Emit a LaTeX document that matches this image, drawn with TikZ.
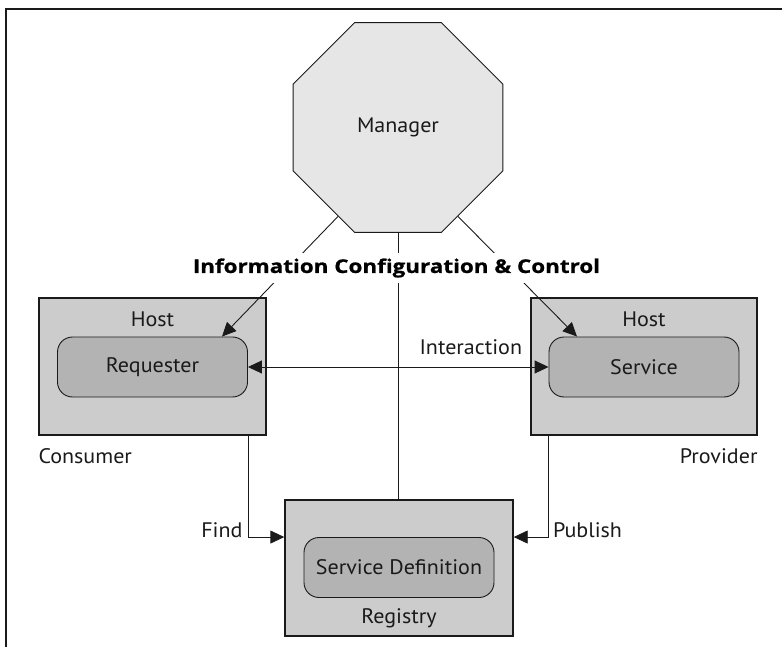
\documentclass[tikz,border=0pt]{standalone}
\usepackage{fontspec}
\setmainfont{PT Sans}[FakeStretch=1.05]
\newfontfamily\headfont{Open Sans}[FakeStretch=1.18,FakeBold=0.8]
\usetikzlibrary{arrows.meta,shapes.geometric,calc}
\definecolor{mgrfill}{HTML}{E6E6E6}
\definecolor{hostfill}{HTML}{CCCCCC}
\definecolor{innerfill}{HTML}{B3B3B3}
\definecolor{ink}{HTML}{1A1A1A}
\begin{document}
\begin{tikzpicture}[x=1pt,y=-1pt,
  font=\fontsize{21}{25}\selectfont,
  hostbox/.style={draw=ink, line width=1.4pt, fill=hostfill, inner sep=0pt},
  innerbox/.style={draw=ink, line width=0.9pt, fill=innerfill, rounded corners=15pt, inner sep=0pt, minimum width=190pt, minimum height=60pt, text=ink},
  conn/.style={draw=ink, line width=0.9pt},
  arr/.style={conn, -{Triangle[length=14pt,width=13pt]}},
  darr/.style={conn, {Triangle[length=14pt,width=13pt]}-{Triangle[length=14pt,width=13pt]}},
  lbl/.style={inner sep=0pt, text=ink}
]
\useasboundingbox (0,0) rectangle (782,647);
\draw[line width=1.5pt, ink] (6,647) -- (6,9) -- (782,9);

\node[regular polygon, regular polygon sides=8, minimum size=227pt, inner sep=0pt, draw=ink, line width=0.9pt, fill=mgrfill, text=ink] (mgr) at (398,127.5) {Manager};

\node[hostbox, minimum width=227pt, minimum height=137pt] (lhost) at (152.5,366.5) {};
\node[innerbox] (req) at (152.5,367) {Requester};
\node[hostbox, minimum width=226pt, minimum height=137pt] (rhost) at (644,366.5) {};
\node[innerbox] (svc) at (644,367) {Service};
\node[hostbox, minimum width=228pt, minimum height=136pt] (reg) at (399,568) {};
\node[innerbox] (sdef) at (399,567.5) {Service Definition};

\node[lbl, anchor=base] (lhostlbl) at ([yshift=-29pt]lhost.north) {Host};
\node[lbl, anchor=base] (rhostlbl) at ([yshift=-29pt]rhost.north) {Host};
\node[lbl, anchor=base west] (cons) at ([yshift=-28pt]lhost.south west) {Consumer};
\node[lbl, anchor=base east] (prov) at ([yshift=-28pt]rhost.south east) {Provider};
\node[lbl, anchor=base] (reglbl) at ([yshift=13pt]reg.south) {Registry};

\draw[arr] (mgr.-124) -- ($(req.north)+(69.5,0)$);
\draw[arr] (mgr.-56) -- ($(svc.north)+(-67,0)$);
\draw[conn] (mgr.south) -- (mgr.south |- reg.north);

\draw[darr] (req.east) -- (svc.west) node[lbl, pos=1, anchor=base east, xshift=-26pt, yshift=13pt] {Interaction};
\draw[arr] (req.east |- lhost.south) |- (reg.west |- sdef.north) node[lbl, pos=0.5, anchor=base east, xshift=-5pt] {Find};
\draw[arr] (svc.west |- rhost.south) |- (reg.east |- sdef.north) node[lbl, pos=0.5, anchor=base west, xshift=4pt] {Publish};

\node[fill=white, inner xsep=0pt, inner ysep=0pt, minimum height=30pt, text=black, font=\headfont\bfseries\fontsize{19}{22}\selectfont] (head) at (396.5,268) {Information Configuration \& Control};
\end{tikzpicture}
\end{document}
